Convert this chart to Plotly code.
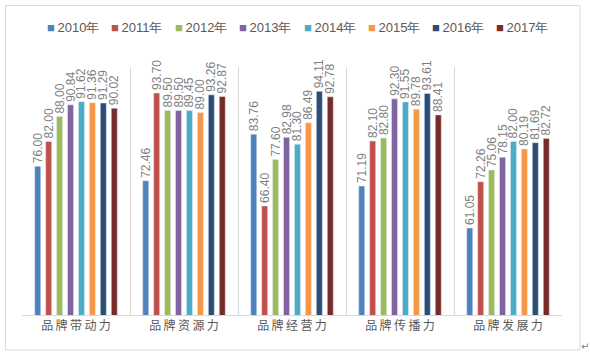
import plotly.graph_objects as go

categories = ["品牌带动力", "品牌资源力", "品牌经营力", "品牌传播力", "品牌发展力"]
years = ["2010年", "2011年", "2012年", "2013年", "2014年", "2015年", "2016年", "2017年"]
v2010 = [76.00, 72.46, 83.76, 71.19, 61.05]
v2011 = [82.00, 93.70, 66.40, 82.10, 72.26]
v2012 = [88.00, 89.50, 77.60, 82.80, 75.06]
v2013 = [90.84, 89.50, 82.98, 92.30, 78.15]
v2014 = [91.62, 89.45, 81.30, 91.55, 82.00]
v2015 = [91.36, 89.00, 86.49, 89.78, 80.19]
v2016 = [91.29, 93.26, 94.11, 93.61, 81.69]
v2017 = [90.02, 92.87, 92.78, 88.41, 82.72]
series = [v2010, v2011, v2012, v2013, v2014, v2015, v2016, v2017]
colors = ["#4F81BD", "#C0504D", "#9BBB59", "#8064A2", "#4BACC6", "#F79646", "#2C4D75", "#772C2A"]

fig = go.Figure()
for name, vals, c in zip(years, series, colors):
    fig.add_trace(go.Bar(
        x=categories, y=vals, name=name, marker_color=c,
        text=[f"{v:.2f}" for v in vals], textposition="outside", textangle=-90,
        constraintext="none",
        textfont=dict(family="Liberation Sans Narrow, Liberation Sans", size=12, color="#7f7f7f"),
        cliponaxis=False, showlegend=False,
    ))

# legend drawn as text entries (colored square + year)
annotations = []
for i, (name, c) in enumerate(zip(years, colors)):
    annotations.append(dict(
        xref="paper", yref="paper", x=0.0419 + i * 0.119, y=1.161,
        xanchor="left", yanchor="middle", showarrow=False,
        text=f"<span style='color:{c}'>■</span>\u2009{name}",
        font=dict(family="Liberation Sans", size=13, color="#595959"),
    ))
annotations.append(dict(
    xref="paper", yref="paper", x=1.043, y=-0.125, xanchor="center", yanchor="middle",
    showarrow=False, text="↵", font=dict(family="DejaVu Sans", size=10, color="#808080"),
))

fig.update_layout(
    width=590, height=357,
    margin=dict(l=22, r=28, t=67, b=42, autoexpand=False),
    paper_bgcolor="white", plot_bgcolor="white",
    barmode="group", bargap=0.19, bargroupgap=0.45,
    showlegend=False,
    annotations=annotations,
    xaxis=dict(tickson="boundaries", showgrid=True, gridcolor="#d9d9d9", gridwidth=1,
               showline=True, linecolor="#d9d9d9", linewidth=1, ticks="",
               tickvals=categories, ticktext=["\u2009".join(c) for c in categories],
               tickfont=dict(family="Noto Sans CJK SC", size=12, color="#595959"),
               fixedrange=True),
    yaxis=dict(range=[40, 100], visible=False, showgrid=False, fixedrange=True),
    shapes=[dict(type="rect", xref="paper", yref="paper", x0=-0.0306, x1=1.0333, y0=-0.141, y1=1.248,
                 line=dict(color="#d9d9d9", width=1), fillcolor="rgba(0,0,0,0)", layer="below")],
)

fig.write_html("out.html", config={"displayModeBar": False},
               post_script="document.body.style.margin='0px';document.body.style.overflow='hidden';")
